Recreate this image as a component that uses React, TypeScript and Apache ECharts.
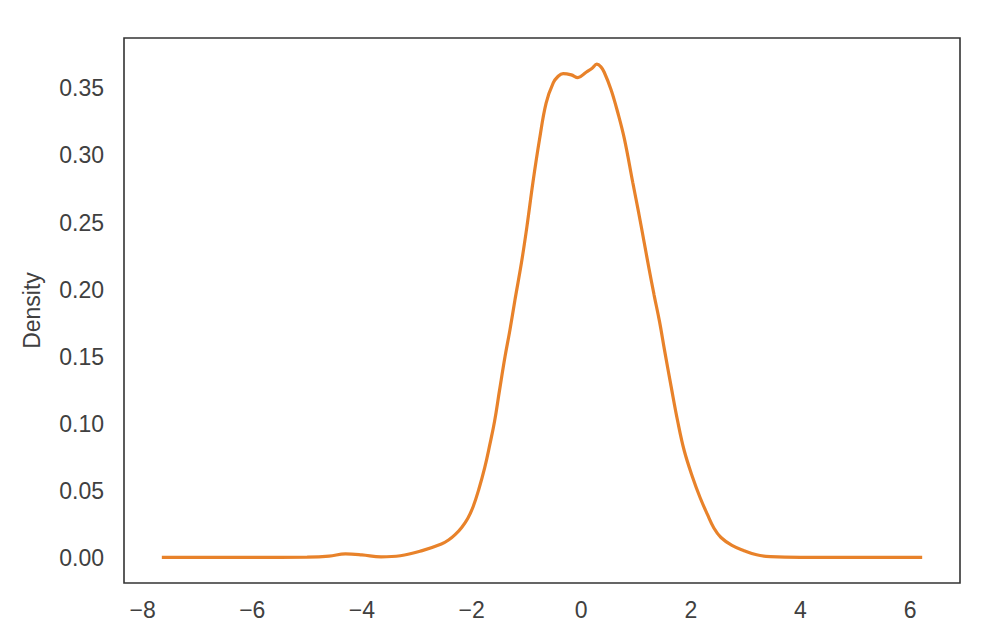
import React, { useEffect, useRef } from "react";
import * as echarts from "echarts";

const xValues = [
  -7.65, -7.0, -6.0, -5.0, -4.6, -4.3, -4.0, -3.65, -3.3, -2.9, -2.55, -2.42, -2.3,
  -2.18, -2.07, -1.97, -1.87, -1.76, -1.67, -1.58, -1.49, -1.39, -1.3, -1.21, -1.09,
  -0.99, -0.88, -0.76, -0.64, -0.51, -0.42, -0.33, -0.18, -0.06, 0.09, 0.2, 0.285,
  0.36, 0.42, 0.545, 0.667, 0.79, 0.94, 1.05, 1.15, 1.24, 1.33, 1.43, 1.52, 1.64,
  1.76, 1.88, 2.03, 2.17, 2.3, 2.42, 2.55, 2.75, 2.97, 3.2, 3.45, 4.0, 5.0, 6.22,
];
const densityValues = [
  0.0006, 0.0006, 0.0006, 0.0008, 0.0015, 0.0032, 0.0025, 0.001, 0.0018, 0.0056,
  0.0105, 0.0135, 0.0175, 0.0229, 0.0295, 0.0385, 0.051, 0.0674, 0.084, 0.102, 0.125,
  0.15, 0.17, 0.192, 0.22, 0.247, 0.28, 0.312, 0.339, 0.354, 0.359, 0.361, 0.36,
  0.358, 0.362, 0.365, 0.368, 0.366, 0.362, 0.349, 0.332, 0.312, 0.28, 0.257, 0.235,
  0.215, 0.196, 0.176, 0.155, 0.128, 0.102, 0.08, 0.0605, 0.045, 0.0328, 0.0225,
  0.0154, 0.0095, 0.0056, 0.0025, 0.0012, 0.0006, 0.0006, 0.0006,
];
const yAxisName = "Density";

export default function App() {
  const ref = useRef<HTMLDivElement>(null);
  useEffect(() => {
    if (!ref.current) return;
    const chart = echarts.init(ref.current, undefined, { renderer: "svg" });
    const textColor = "#404040";
    const font = "'Liberation Sans', Arial, sans-serif";
    chart.setOption({
      animation: false,
      backgroundColor: "#ffffff",
      grid: {
        left: 124,
        right: 42,
        top: 38,
        bottom: 59,
        show: true,
        borderColor: "#333333",
        borderWidth: 1.6,
        backgroundColor: "transparent",
      },
      xAxis: {
        type: "value",
        min: -8.34,
        max: 6.91,
        minInterval: 2,
        maxInterval: 2,
        splitNumber: 8,
        axisLine: { show: false },
        axisTick: { show: false },
        splitLine: { show: false },
        axisLabel: {
          showMinLabel: false,
          showMaxLabel: false,
          color: textColor,
          fontSize: 23,
          fontFamily: font,
          margin: 15,
          formatter: (v: number) => {
            if (Math.abs(v / 2 - Math.round(v / 2)) > 1e-6) return "";
            const r = Math.round(v);
            return r < 0 ? "\u2212" + Math.abs(r) : String(r);
          },
        },
      },
      yAxis: {
        type: "value",
        min: -0.0185,
        max: 0.3875,
        minInterval: 0.05,
        maxInterval: 0.05,
        splitNumber: 8,
        name: yAxisName,
        nameLocation: "middle",
        nameGap: 81,
        nameTextStyle: { color: textColor, fontSize: 23, fontFamily: font },
        axisLine: { show: false },
        axisTick: { show: false },
        splitLine: { show: false },
        axisLabel: {
          showMinLabel: false,
          showMaxLabel: false,
          color: textColor,
          fontSize: 23,
          fontFamily: font,
          margin: 20,
          formatter: (v: number) => {
            if (Math.abs(v / 0.05 - Math.round(v / 0.05)) > 1e-6) return "";
            return v.toFixed(2);
          },
        },
      },
      series: [
        {
          type: "line",
          data: xValues.map((x, i) => [x, densityValues[i]]),
          showSymbol: false,
          smooth: 0.4,
          lineStyle: { color: "#e8822a", width: 3.2 },
          itemStyle: { color: "#e8822a" },
        },
      ],
    });
    return () => chart.dispose();
  }, []);
  return (
    <div
      ref={ref}
      style={{ position: "fixed", left: 0, top: 0, width: 1002, height: 642 }}
    />
  );
}
